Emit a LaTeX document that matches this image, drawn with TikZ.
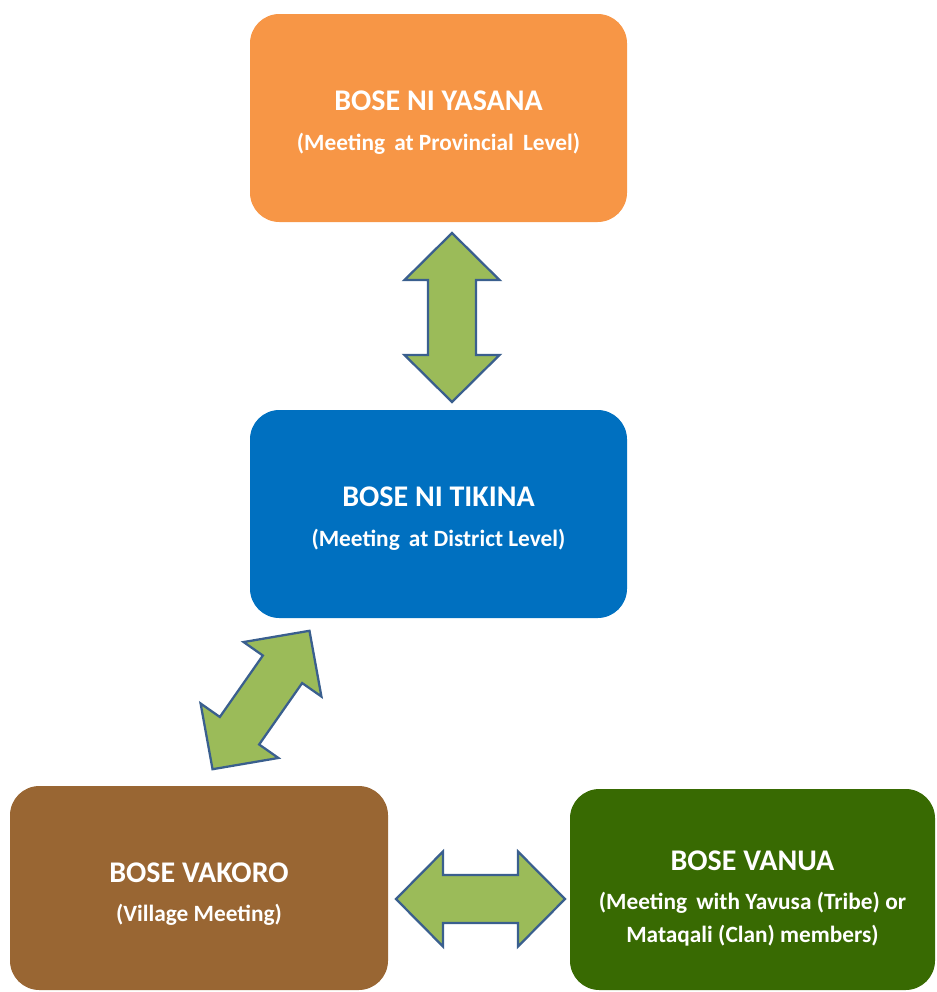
\documentclass[tikz,border=0pt]{standalone}
\usepackage{fontspec}
\setmainfont{Carlito}
\definecolor{orangebox}{HTML}{F79646}
\definecolor{bluebox}{HTML}{0070C0}
\definecolor{brownbox}{HTML}{996633}
\definecolor{greenbox}{HTML}{386A02}
\definecolor{arrowfill}{HTML}{9BBB59}
\definecolor{arrowline}{HTML}{3A5F8E}
\begin{document}
\begin{tikzpicture}[x=0.75pt,y=-0.75pt,
  box/.style={rectangle, rounded corners=22pt, inner sep=0pt},
  txt/.style={inner sep=0pt, text=white, align=center,
    font=\bfseries\fontsize{17.5}{24.5}\selectfont},
  arrowstyle/.style={draw=arrowline, fill=arrowfill, line width=1.7pt, line join=miter},
  dblarr/.pic={\path[arrowstyle] (0,-84.5) -- (47.5,-37.5) -- (24,-37.5) -- (24,37.5) -- (47.5,37.5)
     -- (0,84.5) -- (-47.5,37.5) -- (-24,37.5) -- (-24,-37.5) -- (-47.5,-37.5) -- cycle;}
]
\useasboundingbox (0,0) rectangle (936,992);
\node[box, fill=orangebox, minimum width=282.75pt, minimum height=156pt] (yasana) at (438.5,118) {};
\node[box, fill=bluebox, minimum width=282.75pt, minimum height=156pt] (tikina) at (438.5,514) {};
\node[box, fill=brownbox, minimum width=283.5pt, minimum height=153pt] (vakoro) at (199,888) {};
\node[box, fill=greenbox, minimum width=273.75pt, minimum height=150.75pt] (vanua) at (752.5,889.5) {};
\node[txt] (yasanatxt) at ([yshift=-3.4pt]yasana.center)
  {{\fontsize{22.5}{24.5}\selectfont BOSE NI YASANA}\\[5pt](Meeting\, at Provincial\, Level)};
\node[txt] (tikinatxt) at ([yshift=-3.4pt]tikina.center)
  {{\fontsize{22.5}{24.5}\selectfont BOSE NI TIKINA}\\[5pt](Meeting\, at District Level)};
\node[txt] (vakorotxt) at ([yshift=-4.5pt]vakoro.center)
  {{\fontsize{22.5}{24.5}\selectfont BOSE VAKORO}\\[5pt](Village Meeting)};
\node[txt] (vanuatxt) at ([yshift=-6.5pt]vanua.center)
  {{\fontsize{22.5}{24.5}\selectfont BOSE VANUA}\\[5pt](Meeting\, with Yavusa (Tribe) or\\Mataqali (Clan) members)};
\coordinate (c1) at (452,317.5);
\coordinate (c2) at (261,700);
\coordinate (c3) at (480.5,899);
\pic[rotate=0] (a1) at (c1) {dblarr};
\pic[rotate=-35] (a2) at (c2) {dblarr};
\pic[rotate=90] (a3) at (c3) {dblarr};
\end{tikzpicture}
\end{document}
